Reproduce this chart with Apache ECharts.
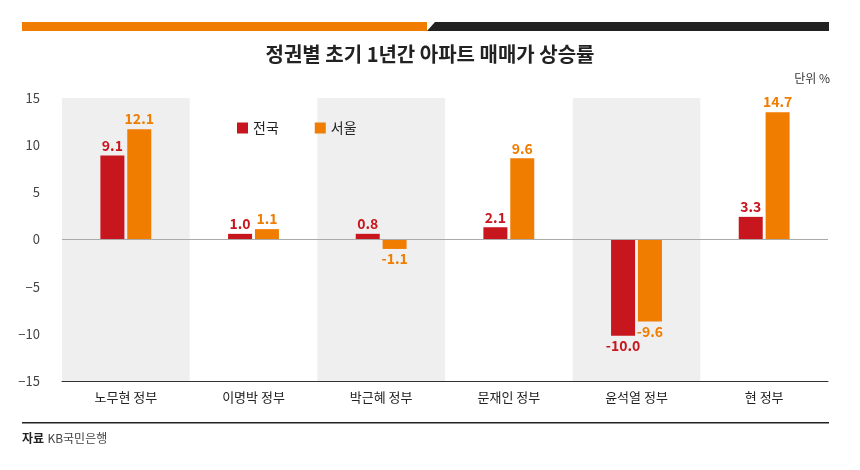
<!DOCTYPE html>
<html><head><meta charset="utf-8">
<script src="https://cdn.jsdelivr.net/npm/echarts@6/dist/echarts.min.js"></script>
<style>html,body{margin:0;background:#fff}#c{width:860px;height:470px}</style>
</head><body><div id="c"></div>
<script>
const categories = ['노무현 정부', '이명박 정부', '박근혜 정부', '문재인 정부', '윤석열 정부', '현 정부'];
// bar heights as drawn in the picture
const nationValues = [8.9, 0.6, 0.6, 1.3, -10.2, 2.4];
const seoulValues = [11.7, 1.1, -1.0, 8.6, -8.7, 13.5];
// printed value labels
const nationLabels = ['9.1', '1.0', '0.8', '2.1', '-10.0', '3.3'];
const seoulLabels = ['12.1', '1.1', '-1.1', '9.6', '-9.6', '14.7'];
const yTicks = [-15, -10, -5, 0, 5, 10, 15];

const RED = '#c8161e', ORANGE = '#f07c00';
const font = '"Noto Sans CJK KR", "Noto Sans", sans-serif';

function barSeries(name, vals, labels, color) {
  return {
    name, type: 'bar', barWidth: 24, barGap: '12%',
    itemStyle: { color },
    data: vals.map((v, i) => ({
      value: v,
      label: {
        show: true, position: v >= 0 ? 'top' : 'bottom', distance: 3,
        formatter: labels[i], color, fontSize: 14, fontWeight: 'bold', fontFamily: font
      }
    }))
  };
}

const chart = echarts.init(document.getElementById('c'));
chart.setOption({
  animation: false,
  textStyle: { fontFamily: font },
  graphic: [
    { type: 'rect', shape: { x: 22, y: 22, width: 405, height: 9 }, style: { fill: ORANGE } },
    { type: 'polygon', shape: { points: [[427, 31], [435, 22], [829, 22], [829, 31]] }, style: { fill: '#222' } },
    { type: 'text', left: 'center', top: 44, style: { text: '정권별 초기 1년간 아파트 매매가 상승률', font: 'bold 20px ' + font, fill: '#222' } },
    { type: 'text', right: 30, top: 72, style: { text: '단위 %', font: '12px ' + font, fill: '#333' } },
    { type: 'rect', shape: { x: 22, y: 422, width: 807, height: 1.5 }, style: { fill: '#222' } },
    { type: 'text', left: 22, top: 432, style: { rich: { b: { font: 'bold 12px ' + font, fill: '#222' }, n: { font: '12px ' + font, fill: '#444' } }, text: '{b|자료} {n|KB국민은행}' } }
  ],
  legend: {
    left: 232, top: 116, itemWidth: 11, itemHeight: 11, itemGap: 36, icon: 'rect',
    textStyle: { fontSize: 14, color: '#222', fontFamily: font }
  },
  grid: { left: 62, right: 32, top: 98, bottom: 89 },
  xAxis: {
    type: 'category', data: categories,
    axisLine: { onZero: false, lineStyle: { color: '#333' } },
    axisTick: { show: false },
    axisLabel: { color: '#222', fontSize: 13, margin: 10 },
    splitArea: { show: true, areaStyle: { color: ['#efefef', 'rgba(0,0,0,0)'] } }
  },
  yAxis: {
    type: 'value', min: -15, max: 15, interval: 5,
    axisLine: { show: false }, axisTick: { show: false }, splitLine: { show: false },
    axisLabel: { color: '#444', fontSize: 13, margin: 22, formatter: v => yTicks.includes(v) ? String(v).replace('-', '−') : '' }
  },
  series: [
    Object.assign(barSeries('전국', nationValues, nationLabels, RED), {
      markLine: { silent: true, symbol: 'none', label: { show: false }, lineStyle: { color: '#aaa', type: 'solid', width: 1 }, data: [{ yAxis: 0 }] }
    }),
    barSeries('서울', seoulValues, seoulLabels, ORANGE)
  ]
});
</script></body></html>
